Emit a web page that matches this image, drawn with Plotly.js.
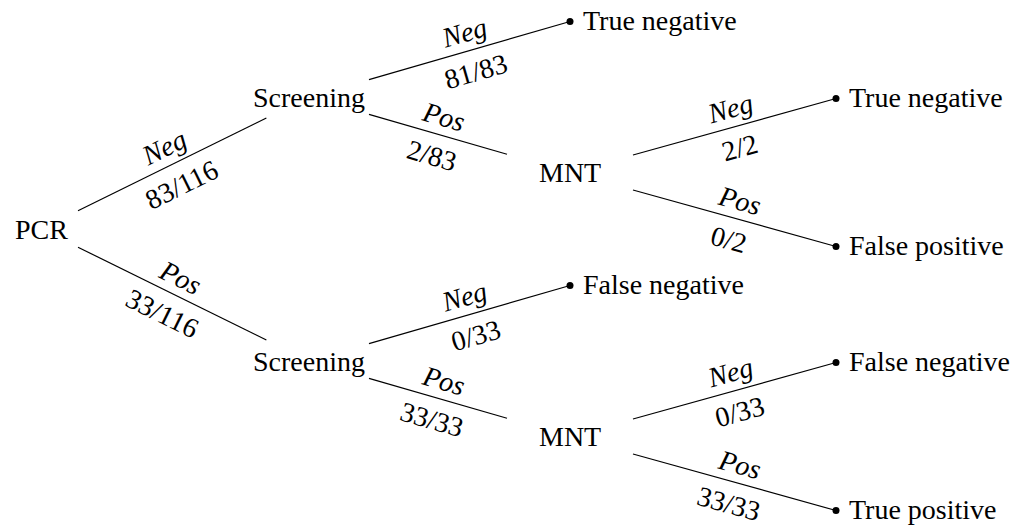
<!DOCTYPE html>
<html>
<head>
<meta charset="utf-8">
<script src="https://cdn.plot.ly/plotly-3.0.1.min.js"></script>
</head>
<body style="margin:0;background:#fff">
<div id="chart"></div>
<script>
// ---- Data: the probability tree ----
const nodeNames   = ['PCR', 'Screening', 'Screening', 'True negative', 'MNT', 'True negative', 'False positive', 'False negative', 'MNT', 'False negative', 'True positive'];
const nodeParents = [-1, 0, 0, 1, 1, 4, 4, 2, 2, 8, 8];
const branchTests = ['', 'Neg', 'Pos', 'Neg', 'Pos', 'Neg', 'Pos', 'Neg', 'Pos', 'Neg', 'Pos'];
const branchCounts = [null, 83, 33, 81, 2, 2, 0, 0, 33, 0, 33];
const branchTotals = [null, 116, 116, 83, 83, 2, 2, 33, 33, 33, 33];

// ---- Layout (style) ----
const W = 1016, H = 527;
const depthX = [41, 309, 570, 836];
const rootY = 229;
const siblingDist = [0, 264, 151, 148];
const boxes = {PCR: [37, 22], Screening: [60, 21], MNT: [63, 22]};
const FONT = 'Liberation Serif';
const FS = 28;

const n = nodeNames.length;
const kids = nodeNames.map(() => []);
nodeParents.forEach((p, i) => { if (p >= 0) kids[p].push(i); });
const px = new Array(n), py = new Array(n);
function place(i, d, y) {
  px[i] = depthX[d]; py[i] = y;
  const ch = kids[i];
  ch.forEach((c, k) => {
    const off = (k - (ch.length - 1) / 2) * siblingDist[d + 1];
    place(c, d + 1, y + off);
  });
}
place(0, 0, rootY);
const isLeaf = i => kids[i].length === 0;
const boxOf = i => isLeaf(i) ? [0, 0] : (boxes[nodeNames[i]] || [40, 20]);

const traces = [];
const annotations = [];
for (let i = 0; i < n; i++) {
  const p = nodeParents[i];
  if (p < 0) continue;
  const dx = px[i] - px[p], dy = py[i] - py[p];
  const [hwp, hhp] = boxOf(p), [hwc, hhc] = boxOf(i);
  const t1 = Math.min(hwp / Math.abs(dx), hhp / Math.abs(dy));
  const t2 = Math.min(hwc / Math.abs(dx), hhc / Math.abs(dy));
  const x0 = px[p] + t1 * dx, y0 = py[p] + t1 * dy;
  const x1 = px[i] - t2 * dx, y1 = py[i] - t2 * dy;
  traces.push({x: [x0, x1], y: [y0, y1], mode: 'lines', type: 'scatter',
    line: {color: '#000', width: 1.2}, hoverinfo: 'skip', showlegend: false});
  const L = Math.hypot(x1 - x0, y1 - y0);
  const ux = (x1 - x0) / L, uy = (y1 - y0) / L;
  const nx = uy, ny = -ux; // normal pointing up
  const mx = (x0 + x1) / 2, my = (y0 + y1) / 2;
  const ang = Math.atan2(uy, ux) * 180 / Math.PI;
  const up = 18.5, down = 22;
  annotations.push({x: mx + nx * up, y: my + ny * up, text: '<i>' + branchTests[i] + '</i>',
    showarrow: false, textangle: ang, xanchor: 'center', yanchor: 'middle',
    font: {family: FONT, size: FS, color: '#000'}});
  annotations.push({x: mx - nx * down, y: my - ny * down, text: branchCounts[i] + '/' + branchTotals[i],
    showarrow: false, textangle: ang, xanchor: 'center', yanchor: 'middle',
    font: {family: FONT, size: FS, color: '#000'}});
}
const leafIdx = [...Array(n).keys()].filter(isLeaf);
traces.push({x: leafIdx.map(i => px[i]), y: leafIdx.map(i => py[i]), mode: 'markers', type: 'scatter',
  marker: {color: '#000', size: 7}, hoverinfo: 'skip', showlegend: false});
for (let i = 0; i < n; i++) {
  if (isLeaf(i)) {
    annotations.push({x: px[i], y: py[i] - 1, text: nodeNames[i], showarrow: false, xanchor: 'left', yanchor: 'middle',
      xshift: 11, font: {family: FONT, size: FS, color: '#000'}});
  } else {
    annotations.push({x: px[i], y: py[i], text: nodeNames[i], showarrow: false, xanchor: 'center', yanchor: 'middle',
      font: {family: FONT, size: FS, color: '#000'}});
  }
}

Plotly.newPlot('chart', traces, {
  width: W, height: H,
  margin: {l: 0, r: 0, t: 0, b: 0},
  paper_bgcolor: '#fff', plot_bgcolor: '#fff',
  xaxis: {range: [0, W], visible: false, fixedrange: true},
  yaxis: {range: [H, 0], visible: false, fixedrange: true},
  annotations: annotations,
  showlegend: false
}, {staticPlot: true});
</script>
</body>
</html>
